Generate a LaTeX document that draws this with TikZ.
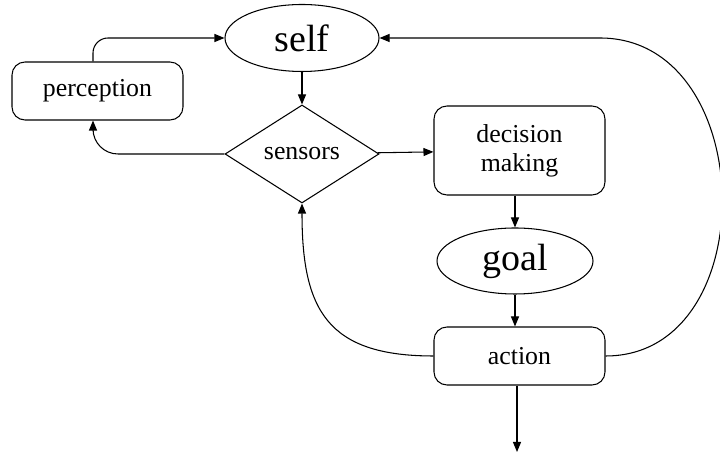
\documentclass[tikz,border=0pt]{standalone}
\usepackage{fontspec}
\setmainfont{Liberation Serif}
\usetikzlibrary{shapes.geometric,arrows.meta}
\newcommand{\nsz}{\fontsize{14.7}{16.4}\selectfont}
\newcommand{\bsz}{\fontsize{21.6}{24}\selectfont}

\begin{document}
\begin{tikzpicture}[line width=0.6pt,
   rbox/.style={draw,rounded corners=0.26cm,minimum width=3.42cm,align=center,font=\nsz},
   oval/.style={draw,ellipse,inner sep=0pt,font=\bsz},
   diam/.style={draw,diamond,inner sep=0pt,minimum width=3.08cm,minimum height=1.96cm,font=\nsz},
   arr/.style={-{Triangle[length=2mm,width=1.6mm]}}]
   \useasboundingbox (0,0) rectangle (14.4,9.1);
   % nodes
   \node[oval,minimum width=3.08cm,minimum height=1.34cm] (self) at (6.04,8.34) {self};
   \node[rbox,minimum height=1.16cm] (perception) at (1.95,7.28) {perception};
   \node[diam] (sensors) at (6.04,6.02) {sensors};
   \node[rbox,minimum height=1.78cm] (decision) at (10.39,6.09) {decision\\making};
   \node[oval,minimum width=3.12cm,minimum height=1.32cm] (goal) at (10.3,3.88) {goal};
   \node[rbox,minimum height=1.16cm] (action) at (10.39,1.98) {action};
   \coordinate (out) at (10.34,0.06);
   \coordinate (turn) at (12.0,8.34);
   % connectors
   \draw[arr] (self) -- (sensors);
   \draw[arr] (sensors) -- (decision);
   \draw[arr] (decision.south -| goal) -- (goal);
   \draw[arr] (goal) -- (action.north -| goal);
   \draw[arr] (action.south -| out) -- (out);
   \draw[arr,rounded corners=0.3cm] ([xshift=-0.09cm]perception.north) |- (self.west);
   \draw[arr,rounded corners=0.5cm] (sensors.west) -| ([xshift=-0.09cm]perception.south);
   \draw[arr] (action.west) to[out=180,in=-90,looseness=1.35] (sensors.south);
   \draw[arr] (action.east) to[out=0,in=0,looseness=1.28] (turn) -- (self.east);
\end{tikzpicture}
\end{document}
